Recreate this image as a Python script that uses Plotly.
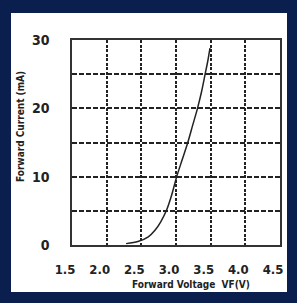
import plotly.graph_objects as go

# Data
voltage = [2.28, 2.45, 2.60, 2.70, 2.78, 2.86, 2.94, 3.01, 3.09, 3.17, 3.24, 3.31, 3.37, 3.42, 3.46, 3.49]
current = [0.2, 0.5, 1.2, 2.2, 3.4, 5.0, 7.4, 10.0, 12.5, 15.0, 17.5, 20.0, 22.5, 25.0, 27.0, 28.8]

x_ticks = [1.5, 2.0, 2.5, 3.0, 3.5, 4.0, 4.5]
x_tick_text = ["1.5", "2.0", "2.5", "3.0", "3.5", "4.0", "4.5"]
y_ticks = [0, 5, 10, 15, 20, 25, 30]
y_tick_text = ["0", "", "10", "", "20", "", "30"]

x_title = "Forward Voltage  VF(V)"
y_title = "Forward Current (mA)"

NAVY = "#0a1f4d"
INK = "#222222"
FONT = "DejaVu Sans Condensed, Liberation Sans Narrow, Liberation Sans, Arial, sans-serif"

fig = go.Figure()
fig.add_trace(go.Scatter(
    x=voltage, y=current, mode="lines",
    line=dict(color=INK, width=1.5, shape="spline", smoothing=0.8),
    hoverinfo="skip", showlegend=False,
))

W, H = 297, 303
L, R, T, B = 72, 17, 40, 58
pw, ph = W - L - R, H - T - B

def px_x(p):
    return (p - L) / pw

def px_y(p):
    return (H - B - p) / ph

# white inner panel inside the navy frame
fig.add_shape(type="rect", xref="paper", yref="paper",
              x0=px_x(11), x1=px_x(287), y0=px_y(292), y1=px_y(13),
              fillcolor="white", line=dict(width=0), layer="below")

fig.add_annotation(text=x_title, xref="paper", yref="paper",
                   x=px_x(191), y=px_y(284), showarrow=False,
                   font=dict(family=FONT, size=10, color=INK, weight="bold"),
                   xanchor="center", yanchor="middle")
fig.add_annotation(text=y_title, xref="paper", yref="paper",
                   x=px_x(20), y=px_y(127), showarrow=False, textangle=-90,
                   font=dict(family=FONT, size=10, color=INK, weight="bold"),
                   xanchor="center", yanchor="middle")

fig.update_layout(
    width=W, height=H,
    margin=dict(l=L, r=R, t=T, b=B),
    paper_bgcolor=NAVY, plot_bgcolor="white",
    font=dict(family=FONT, color=INK),
)
fig.update_xaxes(
    range=[1.5, 4.5], tickvals=x_ticks, ticktext=x_tick_text,
    showgrid=True, gridcolor=INK, gridwidth=1.5, griddash="3px,1.5px",
    showline=True, linecolor="#333333", linewidth=1.5, mirror=True,
    zeroline=False, ticks="outside", ticklen=12, tickcolor="rgba(0,0,0,0)",
    ticklabelshift=-7, tickfont=dict(size=13, color=INK, family=FONT, weight="bold"),
)
fig.update_yaxes(
    range=[0, 30], tickvals=y_ticks, ticktext=y_tick_text,
    showgrid=True, gridcolor=INK, gridwidth=1.5, griddash="5px,2px",
    showline=True, linecolor="#333333", linewidth=1.5, mirror=True,
    zeroline=False, ticks="outside", ticklen=18, tickcolor="rgba(0,0,0,0)",
    tickfont=dict(size=14, color=INK, family=FONT, weight="bold"),
)

fig.write_html("out.html", config={"displayModeBar": False},
               post_script="document.body.style.margin='0';document.body.style.overflow='hidden';")
